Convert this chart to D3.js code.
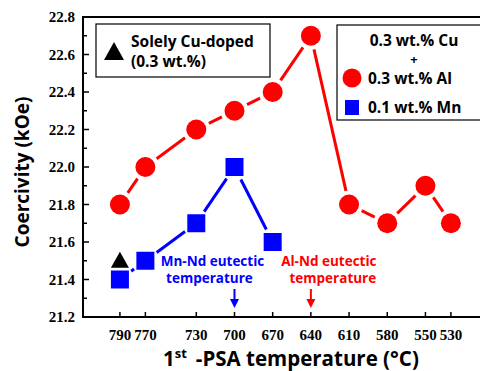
<!DOCTYPE html>
<html>
<head>
<meta charset="utf-8">
<script src="https://cdn.jsdelivr.net/npm/d3@7"></script>
<style>
  body { margin: 0; background: #fff; }
  svg { display: block; }
  .sans { font-family: "Open Sans", "Noto Sans", sans-serif; }
</style>
</head>
<body>
<div id="chart"></div>
<script>
// temperatures of the 1st PSA step (deg C)
const tempsCuAl = [790, 770, 730, 700, 670, 640, 610, 580, 550, 530];
const hcCuAl = [21.8, 22.0, 22.2, 22.3, 22.4, 22.7, 21.8, 21.7, 21.9, 21.7];
const tempsMn = [790, 770, 730, 700, 670];
const hcMn = [21.4, 21.5, 21.7, 22.0, 21.6];
const tempsCu = [790];
const hcCu = [21.5];
const yTicks = [21.2, 21.4, 21.6, 21.8, 22.0, 22.2, 22.4, 22.6, 22.8];

const width = 480, height = 371;
const margin = { left: 83, top: 17, bottom: 54 };

const svg = d3.select('#chart').append('svg').attr('width', width).attr('height', height);

const x = d3.scaleLinear().domain([819, 500]).range([margin.left, margin.left + 319 * 1.273]);
const y = d3.scaleLinear().domain([21.2, 22.8]).range([height - margin.bottom, margin.top]);

// frame
const x0 = margin.left, y0 = y(21.2), yTop = y(22.8);
svg.append('rect')
  .attr('x', x0).attr('y', yTop)
  .attr('width', x(500) - x0).attr('height', y0 - yTop)
  .attr('fill', 'none').attr('stroke', '#000').attr('stroke-width', 2);

// y axis ticks (inward) and labels
const minor = d3.range(21.3, 22.8, 0.2);
svg.selectAll('.ymaj').data(yTicks).enter().append('line')
  .attr('x1', x0).attr('x2', x0 + 6)
  .attr('y1', d => y(d)).attr('y2', d => y(d))
  .attr('stroke', '#000').attr('stroke-width', 1.5);
svg.selectAll('.ymin').data(minor).enter().append('line')
  .attr('x1', x0).attr('x2', x0 + 4)
  .attr('y1', d => y(d)).attr('y2', d => y(d))
  .attr('stroke', '#000').attr('stroke-width', 1.5);
svg.selectAll('.ylab').data(yTicks).enter().append('text')
  .attr('x', x0 - 8).attr('y', d => y(d) + 5)
  .attr('text-anchor', 'end')
  .style('font-family', '"Liberation Serif", serif')
  .style('font-weight', 'bold').style('font-size', '15px')
  .text(d => d.toFixed(1));

// x axis ticks at the measured temperatures
svg.selectAll('.xt').data(tempsCuAl).enter().append('line')
  .attr('x1', d => x(d)).attr('x2', d => x(d))
  .attr('y1', y0).attr('y2', y0 - 5)
  .attr('stroke', '#000').attr('stroke-width', 1.5);
svg.selectAll('.xlab').data(tempsCuAl).enter().append('text')
  .attr('x', d => x(d)).attr('y', y0 + 23)
  .attr('text-anchor', 'middle')
  .style('font-family', '"Liberation Serif", serif')
  .style('font-weight', 'bold').style('font-size', '15px')
  .text(d => d);

// axis titles
svg.append('text')
  .attr('class', 'sans')
  .attr('transform', `translate(29,${(y0 + yTop) / 2 + 5}) rotate(-90)`)
  .attr('text-anchor', 'middle')
  .style('font-weight', 'bold').style('font-size', '19px')
  .text('Coercivity (kOe)');
const xt = svg.append('text').attr('class', 'sans')
  .attr('x', 163).attr('y', 366)
  .style('font-weight', 'bold').style('font-size', '20.5px');
xt.append('tspan').text('1');
xt.append('tspan').attr('dy', -8).style('font-size', '13px').text('st');
xt.append('tspan').attr('dy', 8).attr('dx', 9).text('-PSA temperature (°C)');

// gapped line segments between markers
function gapLine(xs, ys, color, gap) {
  const pts = xs.map((t, i) => [x(t), y(ys[i])]);
  for (let i = 0; i < pts.length - 1; i++) {
    const [ax, ay] = pts[i], [bx, by] = pts[i + 1];
    const len = Math.hypot(bx - ax, by - ay);
    const ux = (bx - ax) / len, uy = (by - ay) / len;
    svg.append('line')
      .attr('x1', ax + ux * gap).attr('y1', ay + uy * gap)
      .attr('x2', bx - ux * gap).attr('y2', by - uy * gap)
      .attr('stroke', color).attr('stroke-width', 3);
  }
}
gapLine(tempsCuAl, hcCuAl, '#ff0000', 14);
gapLine(tempsMn, hcMn, '#0000ff', 14);

svg.selectAll('.cual').data(tempsCuAl).enter().append('circle')
  .attr('cx', d => x(d)).attr('cy', (d, i) => y(hcCuAl[i]))
  .attr('r', 10).attr('fill', '#ff0000');
svg.selectAll('.mn').data(tempsMn).enter().append('rect')
  .attr('x', d => x(d) - 9).attr('y', (d, i) => y(hcMn[i]) - 9)
  .attr('width', 18).attr('height', 18).attr('fill', '#0000ff');
svg.selectAll('.cu').data(tempsCu).enter().append('path')
  .attr('transform', (d, i) => `translate(${x(d)},${y(hcCu[i])})`)
  .attr('d', 'M0,-9L9,7L-9,7Z').attr('fill', '#000');

// eutectic annotations (text offset from the arrow as in the original)
function note(t, lines, offs, color) {
  const cx = x(t);
  lines.forEach((s, i) => {
    svg.append('text').attr('class', 'sans')
      .attr('x', cx + offs[i]).attr('y', 266 + i * 17)
      .attr('text-anchor', 'middle')
      .style('font-weight', 'bold').style('font-size', '13.5px')
      .attr('fill', color).text(s);
  });
  svg.append('line').attr('x1', cx).attr('x2', cx).attr('y1', 289).attr('y2', 300)
    .attr('stroke', color).attr('stroke-width', 2);
  svg.append('path').attr('d', `M${cx - 4.5},299L${cx + 4.5},299L${cx},308Z`).attr('fill', color);
}
note(700, ['Mn-Nd eutectic', 'temperature'], [-22, -25], '#0000ff');
note(640, ['Al-Nd eutectic', 'temperature'], [18, 22], '#ff0000');

// legend 1
svg.append('rect').attr('x', 96).attr('y', 24).attr('width', 174).attr('height', 53)
  .attr('fill', '#fff').attr('stroke', '#000').attr('stroke-width', 1.2);
svg.append('path').attr('d', 'M114,42L124,60L104,60Z').attr('fill', '#000');
svg.append('text').attr('class', 'sans').attr('x', 131).attr('y', 47)
  .style('font-weight', 'bold').style('font-size', '15.5px').text('Solely Cu-doped');
svg.append('text').attr('class', 'sans').attr('x', 131).attr('y', 67)
  .style('font-weight', 'bold').style('font-size', '15.5px').text('(0.3 wt.%)');

// legend 2
svg.append('rect').attr('x', 337).attr('y', 25).attr('width', 160).attr('height', 95)
  .attr('fill', '#fff').attr('stroke', '#000').attr('stroke-width', 1.2);
const lg = [['0.3 wt.% Cu', 414, 46, 'middle', 15.5], ['+', 414, 64, 'middle', 13],
  ['0.3 wt.% Al', 368, 84, 'start', 15.5], ['0.1 wt.% Mn', 368, 113, 'start', 15.5]];
lg.forEach(([s, lx, ly, a, fs]) => {
  svg.append('text').attr('class', 'sans').attr('x', lx).attr('y', ly)
    .attr('text-anchor', a)
    .style('font-weight', 'bold').style('font-size', fs + 'px').text(s);
});
svg.append('circle').attr('cx', 352).attr('cy', 78).attr('r', 9.5).attr('fill', '#ff0000');
svg.append('rect').attr('x', 345).attr('y', 100).attr('width', 14).attr('height', 15).attr('fill', '#0000ff');
</script>
</body>
</html>
